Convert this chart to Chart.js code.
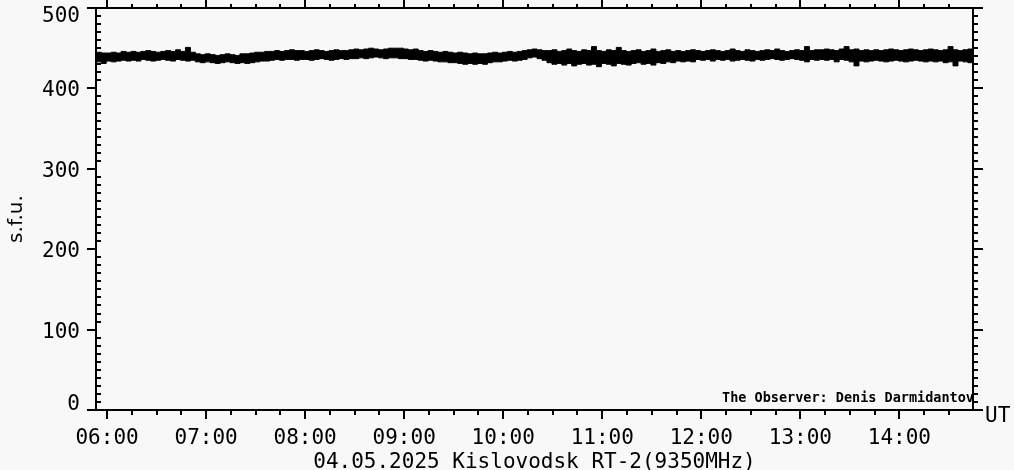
<!DOCTYPE html>
<html>
<head>
<meta charset="utf-8">
<title>Kislovodsk RT-2 9350MHz</title>
<script src="https://cdn.jsdelivr.net/npm/chart.js@4/dist/chart.umd.min.js"></script>
<style>
  html, body { margin: 0; padding: 0; background: #f8f8f8; }
  #wrap { width: 1014px; height: 470px; }
</style>
</head>
<body>
<div id="wrap"><canvas id="fluxChart" width="1014" height="470"></canvas></div>
<script>
// samples every 3 minutes starting 05:52 UT (minutes since midnight)
const startMinute = 352;
const stepMinutes = 3;

// upper / lower edge of the noisy flux band, s.f.u.
const upperSfu = [
  443, 445, 444, 444, 445, 444, 446, 445, 446, 445, 446, 447, 446, 445, 446, 447, 446, 448, 446, 451, 445, 443, 442, 443, 442, 441, 442, 443, 442, 441, 443,
  443, 444, 445, 445, 446, 446, 447, 446, 447, 448, 447, 447, 446, 447, 448, 447, 446, 447, 448, 447, 447, 448, 449, 448, 449, 450, 449, 448, 449, 450,
  450, 450, 449, 448, 449, 447, 446, 447, 446, 445, 446, 445, 444, 445, 444, 443, 444, 443, 443, 444, 445, 444, 445, 446, 445, 446, 447, 448, 449, 448, 447,
  447, 448, 446, 447, 449, 447, 446, 448, 447, 452, 447, 446, 448, 447, 451, 447, 446, 447, 448, 446, 447, 449, 446, 447, 448, 446, 447, 446, 447, 448,
  447, 446, 447, 448, 447, 446, 447, 449, 447, 446, 448, 447, 446, 447, 448, 447, 449, 447, 446, 447, 448, 447, 452, 447, 448, 448, 449, 448, 447, 449, 452,
  448, 449, 447, 448, 447, 448, 447, 448, 449, 448, 447, 448, 449, 448, 447, 448, 449, 448, 447, 448, 452, 448, 447, 448, 449, 448
];
const lowerSfu = [
  432, 433, 431, 434, 433, 434, 435, 434, 435, 434, 436, 435, 434, 435, 436, 435, 434, 436, 435, 434, 435, 433, 432, 433, 432, 431, 432, 433, 432, 431, 432,
  431, 432, 433, 434, 434, 435, 436, 435, 436, 436, 435, 436, 436, 435, 436, 437, 436, 435, 436, 437, 436, 437, 437, 438, 437, 438, 439, 438, 437, 438,
  438, 437, 437, 436, 436, 435, 434, 435, 434, 433, 433, 432, 432, 431, 430, 431, 430, 431, 430, 432, 433, 433, 434, 435, 434, 435, 436, 438, 439, 437, 435,
  432, 430, 431, 429, 431, 428, 430, 431, 429, 430, 427, 431, 430, 428, 431, 430, 429, 431, 432, 430, 431, 429, 432, 431, 433, 432, 434, 433, 434, 433,
  436, 435, 436, 434, 436, 435, 436, 434, 435, 436, 435, 434, 436, 435, 436, 437, 436, 435, 436, 437, 436, 435, 433, 436, 435, 436, 435, 436, 433, 436, 435,
  433, 428, 434, 433, 434, 435, 434, 433, 434, 435, 434, 433, 434, 435, 434, 433, 434, 433, 434, 432, 433, 428, 434, 433, 432, 434
];

const hourTicks = [360, 420, 480, 540, 600, 660, 720, 780, 840];
const hourLabels = ["06:00", "07:00", "08:00", "09:00", "10:00", "11:00", "12:00", "13:00", "14:00"];
const sfuTicks = [0, 100, 200, 300, 400, 500];
const sfuLabels = ["0", "100", "200", "300", "400", "500"];

const axisFont = "\"DejaVu Sans Mono\", monospace";

const toPoints = (values) => values.map((v, i) => ({ x: startMinute + i * stepMinutes, y: v }));

// frame, IDL-style tick marks and the loose texts
const frameTicks = {
  id: "frameTicks",
  beforeDraw(chart) {
    const ctx = chart.ctx;
    ctx.save();
    ctx.fillStyle = "#f8f8f8";
    ctx.fillRect(0, 0, chart.width, chart.height);
    ctx.restore();
  },
  afterDraw(chart) {
    const { ctx, chartArea: a, scales: { x, y } } = chart;
    ctx.save();
    ctx.strokeStyle = "#000";
    ctx.fillStyle = "#000";
    ctx.lineWidth = 2;
    ctx.strokeRect(a.left, a.top, a.right - a.left, a.bottom - a.top);

    ctx.beginPath();
    for (let m = 360; m <= x.max; m += 15) {
      const px = Math.round(x.getPixelForValue(m));
      const major = m % 60 === 0;
      ctx.moveTo(px, a.bottom);
      ctx.lineTo(px, a.bottom + (major ? 9 : 5));
      ctx.moveTo(px, a.top);
      ctx.lineTo(px, a.top - (major ? 8 : 4));
    }
    for (let v = 0; v <= 500; v += 10) {
      const py = Math.round(y.getPixelForValue(v));
      const major = v % 100 === 0;
      if (major) {
        ctx.moveTo(a.left - 9, py);
        ctx.lineTo(a.left, py);
        ctx.moveTo(a.right, py);
        ctx.lineTo(a.right + 10, py);
      } else {
        ctx.moveTo(a.left, py);
        ctx.lineTo(a.left + 5, py);
        ctx.moveTo(a.right, py);
        ctx.lineTo(a.right + 5, py);
      }
    }
    ctx.stroke();

    // y tick labels, kept inside the frame at both ends
    ctx.font = "21px " + axisFont;
    ctx.textAlign = "right";
    ctx.textBaseline = "alphabetic";
    sfuTicks.forEach((v, i) => {
      const base = Math.min(Math.max(y.getPixelForValue(v) + 8, 22), 410);
      ctx.fillText(sfuLabels[i], 80, base);
    });

    ctx.textAlign = "left";
    ctx.fillText("UT", 985, 422);

    ctx.textAlign = "center";
    ctx.fillText("04.05.2025 Kislovodsk RT-2(9350MHz)", (a.left + a.right) / 2, 468);

    ctx.font = "bold 13.5px " + axisFont;
    ctx.textAlign = "right";
    ctx.fillText("The Observer: Denis Darmidantov", 974, 402);

    ctx.translate(22, 219);
    ctx.rotate(-Math.PI / 2);
    ctx.font = "20px \"DejaVu Sans\", sans-serif";
    ctx.textAlign = "center";
    ctx.fillText("s.f.u.", 0, 0);
    ctx.restore();
  }
};

new Chart(document.getElementById("fluxChart"), {
  type: "line",
  data: {
    datasets: [
      {
        label: "upper",
        data: toPoints(upperSfu),
        borderColor: "#000",
        backgroundColor: "#000",
        borderWidth: 1,
        pointRadius: 0,
        stepped: "middle",
        fill: "+1"
      },
      {
        label: "lower",
        data: toPoints(lowerSfu),
        borderColor: "#000",
        backgroundColor: "#000",
        borderWidth: 1,
        pointRadius: 0,
        stepped: "middle",
        fill: false
      }
    ]
  },
  plugins: [frameTicks],
  options: {
    responsive: false,
    animation: false,
    devicePixelRatio: 1,
    layout: { padding: { left: 0, right: 41, top: 8, bottom: 0 } },
    plugins: {
      legend: { display: false },
      tooltip: { enabled: false }
    },
    scales: {
      x: {
        type: "linear",
        min: 353.3,
        max: 884.6,
        grid: { display: false, drawTicks: false },
        border: { display: false },
        afterBuildTicks(scale) {
          scale.ticks = hourTicks.map((v) => ({ value: v }));
        },
        afterFit(scale) {
          scale.height = 60;
        },
        ticks: {
          autoSkip: false,
          maxRotation: 0,
          padding: 16,
          color: "#000",
          font: { family: axisFont, size: 21 },
          callback(value) {
            return hourLabels[hourTicks.indexOf(value)];
          }
        }
      },
      y: {
        min: 0,
        max: 500,
        grid: { display: false, drawTicks: false },
        border: { display: false },
        ticks: { display: false },
        afterFit(scale) {
          scale.width = 96;
        }
      }
    }
  }
});
</script>
</body>
</html>
